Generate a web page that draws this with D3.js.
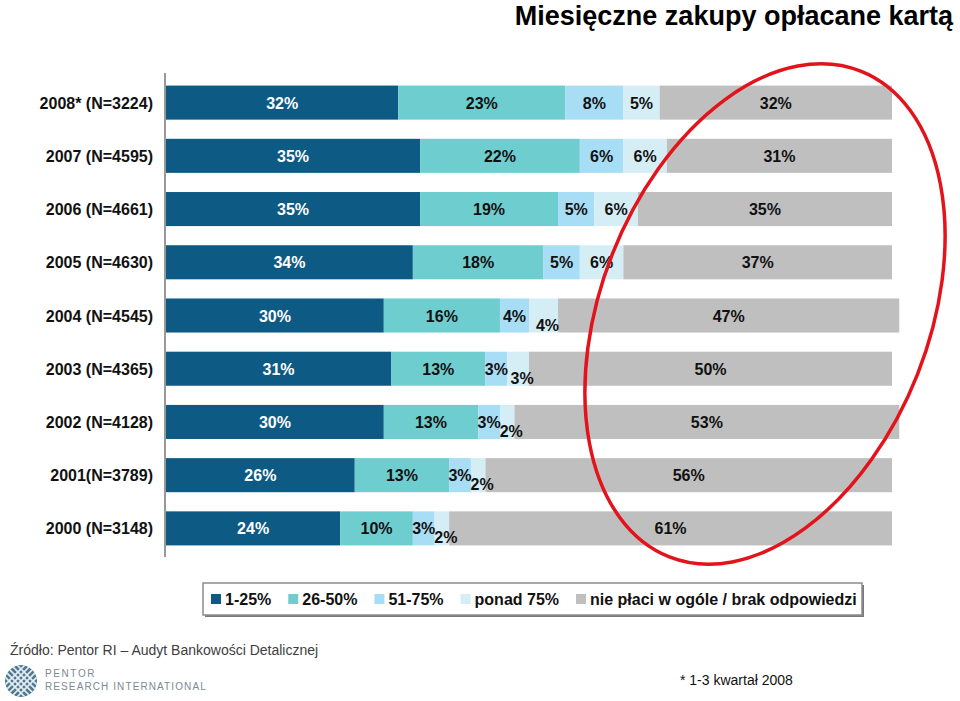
<!DOCTYPE html>
<html lang="pl">
<head>
    <meta charset="UTF-8">
    <title>Miesięczne zakupy opłacane kartą</title>
    <script src="https://d3js.org/d3.v7.min.js"></script>
    <style>
        body {
            margin: 0;
            background: #fff;
            overflow: hidden;
        }
        svg text {
            font-family: "Liberation Sans", Arial, sans-serif;
        }
        .cat-label {
            font-size: 16px;
            font-weight: bold;
            fill: #111;
        }
        .bar-label {
            font-size: 16px;
            font-weight: bold;
            text-anchor: middle;
        }
        .legend-text {
            font-size: 16px;
            font-weight: bold;
            fill: #111;
        }
    </style>
</head>
<body>
    <script>
        // dane z wykresu
        const categories = ["2008* (N=3224)", "2007 (N=4595)", "2006 (N=4661)", "2005 (N=4630)",
            "2004 (N=4545)", "2003 (N=4365)", "2002 (N=4128)", "2001(N=3789)", "2000 (N=3148)"];
        const series = ["1-25%", "26-50%", "51-75%", "ponad 75%", "nie płaci w ogóle / brak odpowiedzi"];
        const v1 = [32, 35, 35, 34, 30, 31, 30, 26, 24];
        const v2 = [23, 22, 19, 18, 16, 13, 13, 13, 10];
        const v3 = [8, 6, 5, 5, 4, 3, 3, 3, 3];
        const v4 = [5, 6, 6, 6, 4, 3, 2, 2, 2];
        const v5 = [32, 31, 35, 37, 47, 50, 53, 56, 61];
        const colors = ["#0d5a84", "#6ecdcf", "#a7def5", "#d5eef6", "#bfbfbf"];

        const width = 960, height = 701;

        const svg = d3.select("body").append("svg")
            .attr("width", width)
            .attr("height", height);

        // tabela dla d3.stack
        const values = [v1, v2, v3, v4, v5];
        const table = categories.map((c, i) => {
            const row = { cat: c };
            series.forEach((s, k) => row[s] = values[k][i]);
            return row;
        });
        const stacked = d3.stack().keys(series)(table);

        const x = d3.scaleLinear().domain([0, 100]).range([166, 892]);
        const y = d3.scaleBand().domain(categories).range([76, 555])
            .paddingInner(0.36).paddingOuter(0.18);

        // tytuł
        svg.append("text")
            .attr("x", 953)
            .attr("y", 25)
            .attr("text-anchor", "end")
            .style("font-size", "27px")
            .style("font-weight", "bold")
            .style("fill", "#000")
            .text("Miesięczne zakupy opłacane kartą");

        // słupki
        svg.append("g")
            .selectAll("g")
            .data(stacked)
            .enter().append("g")
            .attr("fill", (d, k) => colors[k])
            .selectAll("rect")
            .data(d => d)
            .enter().append("rect")
            .attr("x", d => x(d[0]))
            .attr("y", d => y(d.data.cat))
            .attr("width", d => x(d[1]) - x(d[0]))
            .attr("height", y.bandwidth());

        // etykiety wartości (po wszystkich słupkach, żeby nie były zasłonięte)
        const labels = svg.append("g");
        stacked.forEach((d, k) => {
            labels.append("g")
                .selectAll("text")
                .data(d)
                .enter().append("text")
                .attr("class", "bar-label")
                .attr("x", (p, i) => {
                    let cx = (x(p[0]) + x(p[1])) / 2;
                    if (k === 3 && v3[i] + v4[i] <= 8) cx += 4; // małe segmenty - przesunięcie
                    return cx;
                })
                .attr("y", (p, i) => {
                    let cy = y(p.data.cat) + y.bandwidth() / 2 + 6;
                    if (k === 3 && v3[i] + v4[i] <= 8) cy += 9;
                    return cy;
                })
                .style("fill", k === 0 ? "#fff" : "#111")
                .text(p => (p[1] - p[0]) + "%");
        });

        // oś pionowa
        svg.append("line")
            .attr("x1", 165).attr("x2", 165)
            .attr("y1", 73).attr("y2", 557)
            .attr("stroke", "#999")
            .attr("stroke-width", 2);

        // etykiety kategorii
        svg.append("g")
            .selectAll("text")
            .data(categories)
            .enter().append("text")
            .attr("class", "cat-label")
            .attr("x", 153)
            .attr("y", d => y(d) + y.bandwidth() / 2 + 6)
            .attr("text-anchor", "end")
            .text(d => d);

        // legenda
        const legend = svg.append("g");
        legend.append("rect")
            .attr("x", 205).attr("y", 585)
            .attr("width", 659).attr("height", 32)
            .attr("fill", "#7a7a7a");
        legend.append("rect")
            .attr("x", 203).attr("y", 583)
            .attr("width", 659).attr("height", 32)
            .attr("fill", "#fff")
            .attr("stroke", "#8c8c8c")
            .attr("stroke-width", 1.5);

        let lx = 211;
        series.forEach((s, k) => {
            legend.append("rect")
                .attr("x", lx).attr("y", 594)
                .attr("width", 10).attr("height", 10)
                .attr("fill", colors[k]);
            const t = legend.append("text")
                .attr("class", "legend-text")
                .attr("x", lx + 14)
                .attr("y", 605)
                .text(s);
            lx += 14 + t.node().getComputedTextLength() + 17;
        });

        // czerwona elipsa (adnotacja)
        svg.append("ellipse")
            .attr("cx", 765).attr("cy", 314)
            .attr("rx", 261).attr("ry", 164)
            .attr("transform", "rotate(-68.5,765,314)")
            .attr("fill", "none")
            .attr("stroke", "#e3131b")
            .attr("stroke-width", 3.5);

        // źródło
        svg.append("text")
            .attr("x", 10).attr("y", 655)
            .style("font-size", "14px")
            .style("fill", "#404040")
            .text("Źródło: Pentor RI – Audyt Bankowości Detalicznej");

        svg.append("text")
            .attr("x", 680).attr("y", 685)
            .style("font-size", "14px")
            .style("fill", "#111")
            .text("* 1-3 kwartał 2008");

        // logo Pentor
        svg.append("clipPath").attr("id", "globe")
            .append("circle").attr("r", 16);
        const logo = svg.append("g").attr("transform", "translate(21,681)");
        const globe = logo.append("g").attr("clip-path", "url(#globe)");
        globe.append("circle").attr("r", 16).attr("fill", "#4f7890");
        [-12, -6, 0, 6, 12].forEach(o => {
            globe.append("line")
                .attr("x1", -20).attr("y1", o - 20).attr("x2", 20).attr("y2", o + 20)
                .attr("stroke", "#e3edf2").attr("stroke-width", 1.6);
            globe.append("line")
                .attr("x1", -20).attr("y1", -o + 20).attr("x2", 20).attr("y2", -o - 20)
                .attr("stroke", "#e3edf2").attr("stroke-width", 1.6);
        });

        svg.append("text")
            .attr("x", 45).attr("y", 677)
            .style("font-size", "10px")
            .style("letter-spacing", "1.6px")
            .style("fill", "#7b8a94")
            .text("PENTOR");
        svg.append("text")
            .attr("x", 45).attr("y", 690)
            .style("font-size", "10px")
            .style("letter-spacing", "1.1px")
            .style("fill", "#7b8a94")
            .text("RESEARCH INTERNATIONAL");
    </script>
</body>
</html>
